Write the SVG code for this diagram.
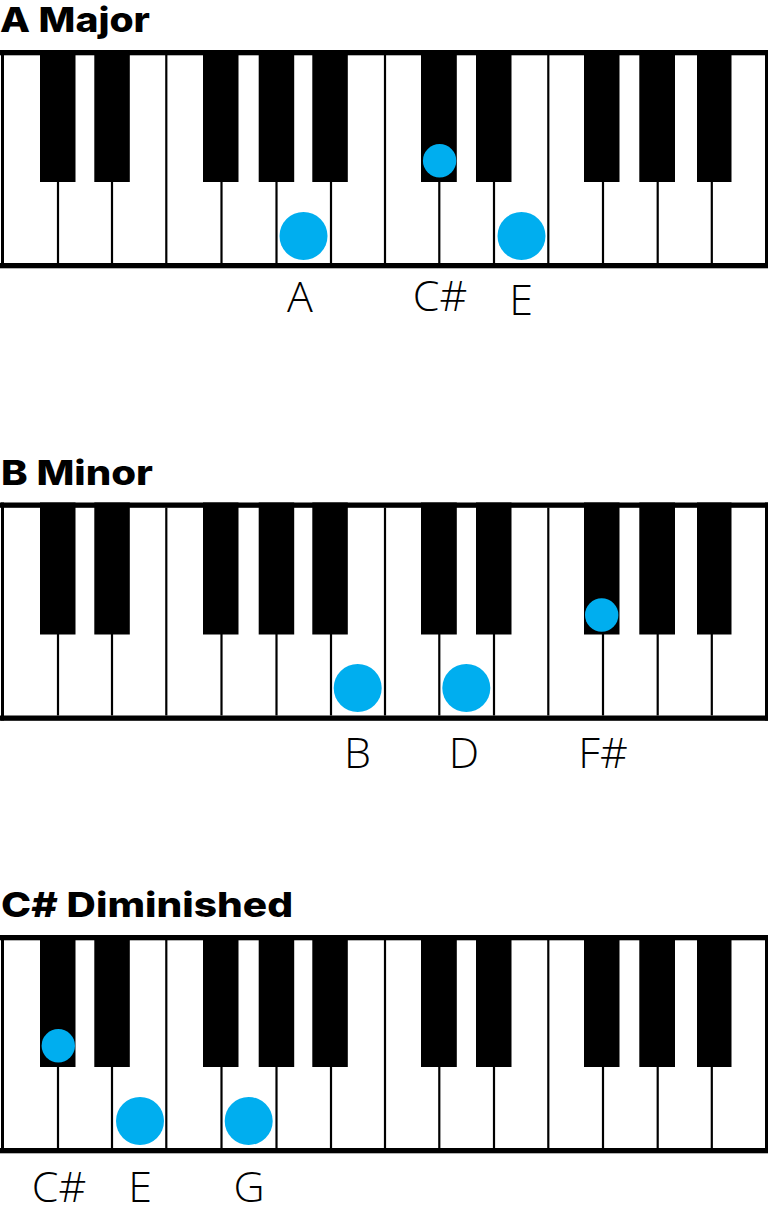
<svg xmlns="http://www.w3.org/2000/svg" xmlns:xlink="http://www.w3.org/1999/xlink" width="768" height="1215" viewBox="0 0 768 1215">
<style>
.title{font-family:Inter,"Noto Sans","Liberation Sans",sans-serif;font-weight:800;font-size:34px;fill:#000}
.note{font-family:"Open Sans","Noto Sans","Liberation Sans",sans-serif;font-weight:300;font-size:43px;fill:#000;text-anchor:middle}
.bar{fill:#000}
.div{stroke:#000;stroke-width:2.2}
.blk{fill:#000}
.dot{fill:#00AEEF}
</style>
<defs>
<g id="kb">
<rect x="0" y="0" width="768" height="218" fill="#fff"/>
<g class="div">
<line x1="58" y1="5" x2="58" y2="213"/>
<line x1="112" y1="5" x2="112" y2="213"/>
<line x1="166.3" y1="5" x2="166.3" y2="213"/>
<line x1="221.5" y1="5" x2="221.5" y2="213"/>
<line x1="276.5" y1="5" x2="276.5" y2="213"/>
<line x1="331" y1="5" x2="331" y2="213"/>
<line x1="385" y1="5" x2="385" y2="213"/>
<line x1="439.3" y1="5" x2="439.3" y2="213"/>
<line x1="494" y1="5" x2="494" y2="213"/>
<line x1="548.3" y1="5" x2="548.3" y2="213"/>
<line x1="603" y1="5" x2="603" y2="213"/>
<line x1="657.7" y1="5" x2="657.7" y2="213"/>
<line x1="711.8" y1="5" x2="711.8" y2="213"/>
</g>
<g class="blk">
<rect x="40" y="0" width="35.5" height="132"/>
<rect x="94.3" y="0" width="35.5" height="132"/>
<rect x="203" y="0" width="35.5" height="132"/>
<rect x="258.7" y="0" width="35.5" height="132"/>
<rect x="312.3" y="0" width="35.5" height="132"/>
<rect x="421" y="0" width="35.8" height="132"/>
<rect x="476" y="0" width="35.5" height="132"/>
<rect x="584" y="0" width="35.5" height="132"/>
<rect x="639.3" y="0" width="35.7" height="132"/>
<rect x="697" y="0" width="34.5" height="132"/>
</g>
<rect class="bar" x="0" y="0" width="768" height="5.3"/>
<rect class="bar" x="0" y="213" width="768" height="5.3"/>
<rect class="bar" x="1" y="0" width="3" height="218"/>
<rect class="bar" x="765" y="0" width="3" height="218"/>
</g>
</defs>
<rect width="768" height="1215" fill="#fff"/>

<g id="a-major">
<text class="title" x="0" y="32.3" textLength="150" lengthAdjust="spacingAndGlyphs">A Major</text>
<use xlink:href="#kb" href="#kb" transform="translate(0,50)"/>
<circle class="dot" cx="303.5" cy="236" r="24"/>
<circle class="dot" cx="439.6" cy="160.7" r="16.7"/>
<circle class="dot" cx="521.5" cy="236" r="24"/>
<text class="note" x="300" y="311.7">A</text>
<text class="note" x="440" y="310.5">C#</text>
<text class="note" x="521" y="315">E</text>
</g>

<g id="b-minor">
<text class="title" x="1" y="485" textLength="152" lengthAdjust="spacingAndGlyphs">B Minor</text>
<use xlink:href="#kb" href="#kb" transform="translate(0,502.5)"/>
<circle class="dot" cx="357.7" cy="688" r="24"/>
<circle class="dot" cx="466.3" cy="688" r="24"/>
<circle class="dot" cx="601.7" cy="615" r="16.7"/>
<text class="note" x="357.5" y="767.7">B</text>
<text class="note" x="464" y="767.7">D</text>
<text class="note" x="603" y="767.7">F#</text>
</g>

<g id="cs-diminished">
<text class="title" x="1" y="916.7" textLength="292" lengthAdjust="spacingAndGlyphs">C# Diminished</text>
<use xlink:href="#kb" href="#kb" transform="translate(0,935)"/>
<circle class="dot" cx="58.3" cy="1045.7" r="16.7"/>
<circle class="dot" cx="140" cy="1121" r="24"/>
<circle class="dot" cx="248.7" cy="1121" r="24"/>
<text class="note" x="59" y="1201.7">C#</text>
<text class="note" x="140" y="1201.7">E</text>
<text class="note" x="249" y="1201.7">G</text>
</g>
</svg>
